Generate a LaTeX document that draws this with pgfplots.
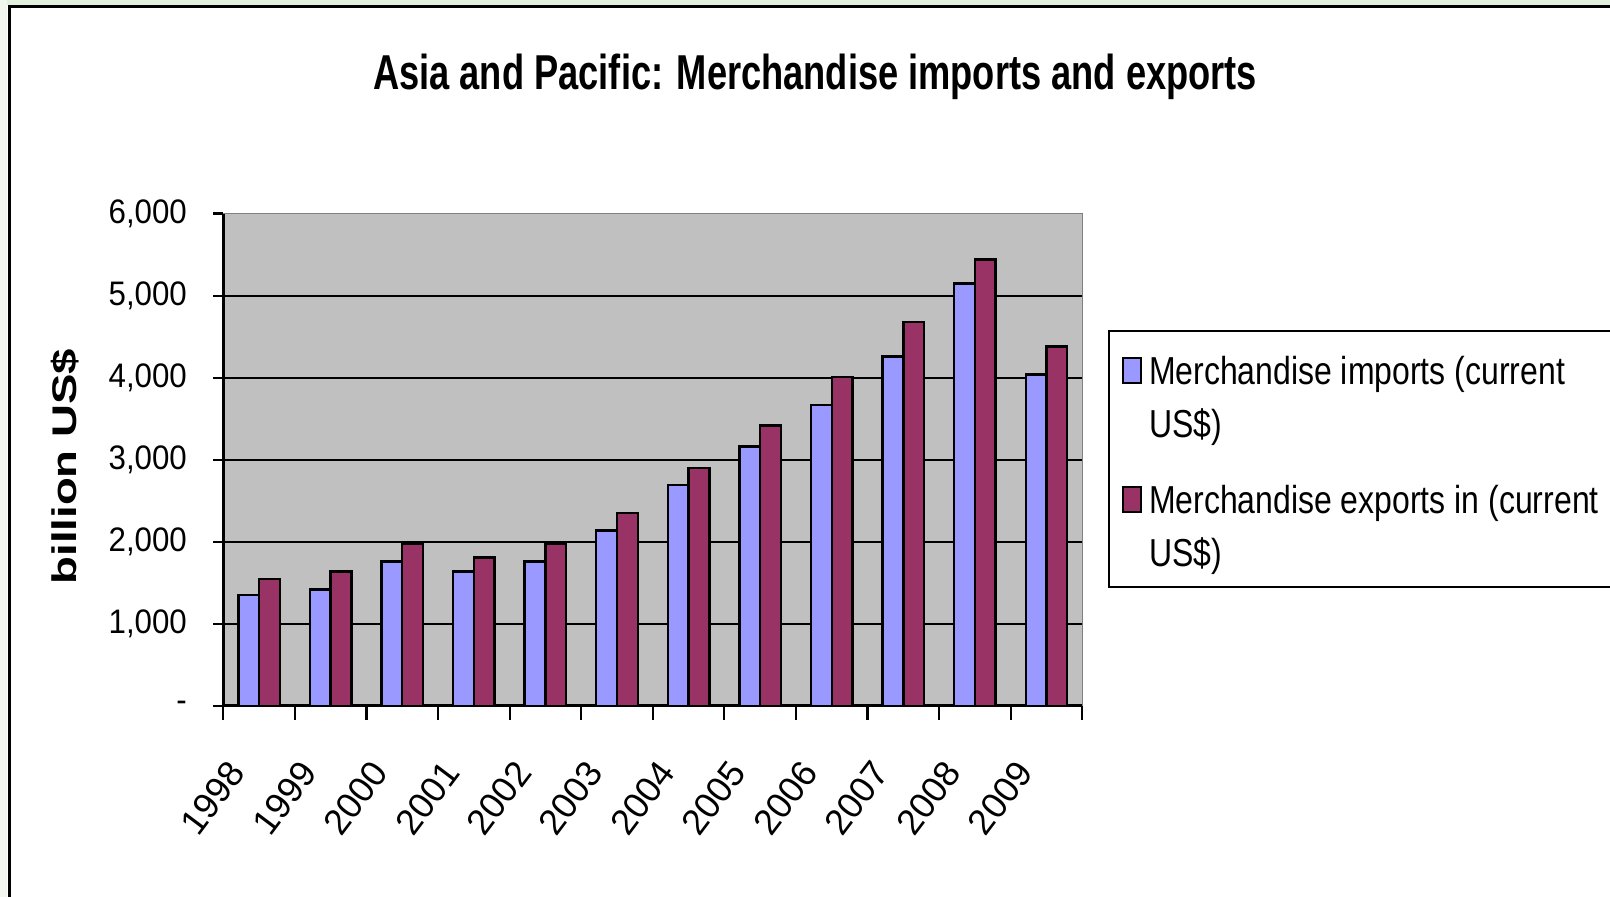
\documentclass[border=0pt]{standalone}
\usepackage{fontspec}
\setmainfont{Liberation Sans}
\newfontfamily\titlefont{Liberation Sans}[FakeStretch=0.74]
\newfontfamily\legfont{Liberation Sans}[FakeStretch=0.82]
\newfontfamily\tickfont{Liberation Sans}[FakeStretch=0.92]
\usepackage{pgfplots}
\usepackage{pgfplotstable}
\pgfplotsset{compat=1.18}
\definecolor{impcol}{HTML}{9999FF}
\definecolor{expcol}{HTML}{993366}
\definecolor{plotbg}{HTML}{C0C0C0}
\definecolor{slidegreen}{HTML}{E3EFDD}

\pgfplotstableread{
x imp exp
0 1350 1550
1 1420 1640
2 1760 1980
3 1640 1810
4 1760 1980
5 2140 2350
6 2690 2900
7 3160 3420
8 3670 4010
9 4260 4680
10 5150 5440
11 4040 4380
}\datatable

\begin{document}
\begin{tikzpicture}
\useasboundingbox (0,0) rectangle (805pt,448.5pt);
\fill[white] (0,0) rectangle (805pt,448.5pt);
\fill[slidegreen] (0,446pt) rectangle (805pt,448.5pt);
\fill[slidegreen!50!white] (0,0) rectangle (3.6pt,448.5pt);
\draw[line width=1.5pt] (4.5pt,-2pt) -- (4.5pt,445pt) -- (810pt,445pt);
\begin{axis}[
  at={(111.65pt,95.5pt)}, anchor=south west,
  scale only axis, width=429.5pt, height=246.2pt,
  xmin=-0.5, xmax=11.5, ymin=0, ymax=6000,
  axis background/.style={fill=plotbg, draw=gray, line width=0.8pt},
  axis x line*=bottom, axis y line*=left,
  axis line style={black, line width=1.5pt, -},
  tick align=outside,
  major tick length=5pt,
  minor tick length=7pt,
  xtick={0,...,11},
  xticklabels={1998,1999,2000,2001,2002,2003,2004,2005,2006,2007,2008,2009},
  major x tick style={draw=none},
  minor xtick={-0.5,0.5,...,11.5},
  minor x tick style={black, line width=1.1pt},
  major y tick style={black, line width=1.1pt},
  ytick={0,1000,2000,3000,4000,5000},
  yticklabels={-,{1,000},{2,000},{3,000},{4,000},{5,000}},
  extra y ticks={6000},
  extra y tick labels={6{,}000},
  extra y tick style={grid=none},
  ymajorgrids,
  major grid style={black, line width=1.1pt},
  yticklabel style={font=\tickfont\fontsize{17}{20}\selectfont, anchor=east, inner sep=0pt, xshift=-13pt},
  xticklabel style={font=\fontsize{18}{20}\selectfont, anchor=east, inner sep=0pt, xshift=-11pt, yshift=-25pt, rotate=53},
  title={Asia and Pacific: Merchandise imports and exports},
  title style={at={(axis description cs:0.689,1.227)}, anchor=base, font=\titlefont\bfseries\fontsize{24.5}{28}\selectfont},
  ylabel={\scalebox{1}[0.75]{billion US\$}},
  ylabel style={at={(axis description cs:-0.184,0.486)}, anchor=center, font=\bfseries\fontsize{22.8}{26}\selectfont},
  legend style={at={(axis description cs:1.030,0.764)}, anchor=north west, draw=black, line width=1pt, fill=white,
    font=\legfont\fontsize{19.5}{26.5}\selectfont, inner xsep=6.5pt, inner ysep=12.8pt,
    nodes={inner sep=0pt, text depth={}}, cells={anchor=base west}, row sep=20pt, column sep=3.5pt},
  legend image code/.code={\draw[#1, draw=black, line width=1pt] (0pt,0.75pt) rectangle (9pt,13.25pt);},
]
\addplot[ybar, bar width=0.29, bar shift=-0.145, fill=impcol, draw=black, line width=1.2pt] table[x=x, y=imp] {\datatable};
\addlegendentry{\parbox[t]{240pt}{Merchandise imports (current\\US\$)}}
\addplot[ybar, bar width=0.29, bar shift=0.145, fill=expcol, draw=black, line width=1.2pt] table[x=x, y=exp] {\datatable};
\addlegendentry{\parbox[t]{240pt}{Merchandise exports in (current\\US\$)\vspace{-7pt}}}
\end{axis}
\end{tikzpicture}
\end{document}
